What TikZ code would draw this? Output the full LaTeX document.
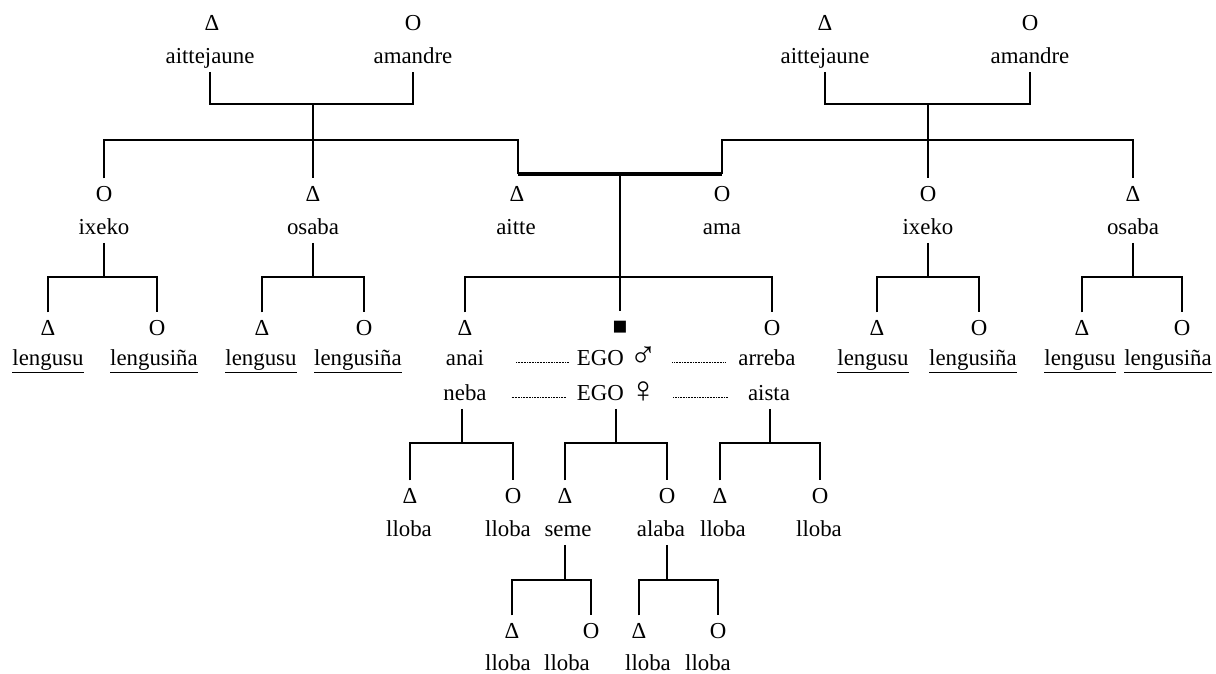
\documentclass[tikz,border=0pt]{standalone}
\usepackage{fontspec}
\setmainfont{Liberation Serif}
\usetikzlibrary{positioning}
\newcommand{\gsign}[1]{\raisebox{-0.1em}{\fontsize{21}{15}\selectfont #1}}

\begin{document}
\begin{tikzpicture}[x=0.02cm, y=-0.02cm,
        every node/.style={font=\fontsize{13}{15}\selectfont, inner xsep=0pt},
        symbol/.style={anchor=base, text height=0.7em, inner ysep=5.7pt},
        term/.style={anchor=base, text height=0.7em, text depth=0.25em, inner ysep=2.3pt},
        kin/.style={line width=1.15pt},
        marriage/.style={line width=2.3pt},
        leader/.style={line width=0.4pt, dash pattern=on 0.45pt off 0.45pt}
    ]
    \useasboundingbox (0,0) rectangle (1216,673);

    % grandparents
    \node[symbol] (sGfL) at (212,30) {Δ};
    \node[term]   (nGfL) at (210,63) {aittejaune};
    \node[symbol] (sGmL) at (413,30) {O};
    \node[term]   (nGmL) at (413,63) {amandre};
    \node[symbol] (sGfR) at (825,30) {Δ};
    \node[term]   (nGfR) at (825,63) {aittejaune};
    \node[symbol] (sGmR) at (1030,30) {O};
    \node[term]   (nGmR) at (1030,63) {amandre};

    % parents, aunts and uncles
    \node[symbol] (sIxL) at (104,201) {O};
    \node[term]   (nIxL) at (104,234) {ixeko};
    \node[symbol] (sOsL) at (313,201) {Δ};
    \node[term]   (nOsL) at (313,234) {osaba};
    \node[symbol] (sAitte) at (517,201) {Δ};
    \node[term]   (nAitte) at (516,234) {aitte};
    \node[symbol] (sAma) at (722,201) {O};
    \node[term]   (nAma) at (722,234) {ama};
    \node[symbol] (sIxR) at (928,201) {O};
    \node[term]   (nIxR) at (928,234) {ixeko};
    \node[symbol] (sOsR) at (1133,201) {Δ};
    \node[term]   (nOsR) at (1133,234) {osaba};

    % cousins
    \node[symbol] (sC1a) at (48,335) {Δ};
    \node[term]   (nC1a) at (48,365) {\underline{lengusu}};
    \node[symbol] (sC1b) at (157,335) {O};
    \node[term]   (nC1b) at (154,365) {\underline{lengusiña}};
    \node[symbol] (sC2a) at (262,335) {Δ};
    \node[term]   (nC2a) at (261,365) {\underline{lengusu}};
    \node[symbol] (sC2b) at (364,335) {O};
    \node[term]   (nC2b) at (358,365) {\underline{lengusiña}};
    \node[symbol] (sC3a) at (877,335) {Δ};
    \node[term]   (nC3a) at (873,365) {\underline{lengusu}};
    \node[symbol] (sC3b) at (979,335) {O};
    \node[term]   (nC3b) at (973,365) {\underline{lengusiña}};
    \node[symbol] (sC4a) at (1082,335) {Δ};
    \node[term]   (nC4a) at (1080,365) {\underline{lengusu}};
    \node[symbol] (sC4b) at (1182,335) {O};
    \node[term]   (nC4b) at (1168,365) {\underline{lengusiña}};

    % siblings and ego
    \node[symbol] (sAnai) at (465,335) {Δ};
    \node[term]   (nAnai) at (465,365) {anai};
    \node[term]   (nNeba) at (465,400) {neba};
    \node[symbol, font=\fontsize{14}{15}\selectfont] (sEgo) at (620,334) {■};
    \node[term]   (nEgoM) at (617,365) {EGO \gsign{♂}};
    \node[term]   (nEgoF) at (617,400) {EGO \gsign{♀}};
    \node[symbol] (sArreba) at (772,335) {O};
    \node[term]   (nArreba) at (767,365) {arreba};
    \node[term]   (nAista) at (769,400) {aista};

    % nephews, nieces, children
    \node[symbol] (sN1a) at (410,503) {Δ};
    \node[term]   (nN1a) at (409,536) {lloba};
    \node[symbol] (sN1b) at (513,503) {O};
    \node[term]   (nN1b) at (508,536) {lloba};
    \node[symbol] (sSeme) at (565,503) {Δ};
    \node[term]   (nSeme) at (568,536) {seme};
    \node[symbol] (sAlaba) at (667,503) {O};
    \node[term]   (nAlaba) at (661,536) {alaba};
    \node[symbol] (sN2a) at (720,503) {Δ};
    \node[term]   (nN2a) at (723,536) {lloba};
    \node[symbol] (sN2b) at (820,503) {O};
    \node[term]   (nN2b) at (819,536) {lloba};

    % grandchildren
    \node[symbol] (sG1a) at (512,638) {Δ};
    \node[term]   (nG1a) at (508,670) {lloba};
    \node[symbol] (sG1b) at (591,638) {O};
    \node[term]   (nG1b) at (567,670) {lloba};
    \node[symbol] (sG2a) at (639,638) {Δ};
    \node[term]   (nG2a) at (648,670) {lloba};
    \node[symbol] (sG2b) at (718,638) {O};
    \node[term]   (nG2b) at (708,670) {lloba};

    % junctions
    \coordinate (kGpL) at (313,104);
    \coordinate (kGpR) at (928,104);
    \coordinate (kTopL) at (313,140);
    \coordinate (kTopR) at (928,140);
    \coordinate (kAitte) at (518,140);
    \coordinate (kAma) at (722,140);
    \coordinate (kMarL) at (518,174);
    \coordinate (kMar) at (620,174);
    \coordinate (kMarR) at (722,174);
    \coordinate (kIxL) at (104,277);
    \coordinate (kOsL) at (313,277);
    \coordinate (kSib) at (620,277);
    \coordinate (kIxR) at (928,277);
    \coordinate (kOsR) at (1133,277);
    \coordinate (kNeba) at (462,443);
    \coordinate (kEgo) at (616,443);
    \coordinate (kAista) at (770,443);
    \coordinate (kSeme) at (565,580);
    \coordinate (kAlaba) at (667,580);

    % grandparents to their children
    \draw[kin] (nGfL.south) |- (kGpL) -| (nGmL.south);
    \draw[kin] (nGfR.south) |- (kGpR) -| (nGmR.south);
    \draw[kin] (kGpL) -- (sOsL.north);
    \draw[kin] (sIxL.north) |- (kTopL) -- (kAitte) -- (kMarL);
    \draw[kin] (kGpR) -- (sIxR.north);
    \draw[kin] (kMarR) -- (kAma) -- (kTopR) -| (sOsR.north);
    \draw[marriage] (kMarL) -- (kMarR);

    % cousins
    \draw[kin] (nIxL.south) -- (kIxL);
    \draw[kin] (sC1a.north) |- (kIxL) -| (sC1b.north);
    \draw[kin] (nOsL.south) -- (kOsL);
    \draw[kin] (sC2a.north) |- (kOsL) -| (sC2b.north);
    \draw[kin] (nIxR.south) -- (kIxR);
    \draw[kin] (sC3a.north) |- (kIxR) -| (sC3b.north);
    \draw[kin] (nOsR.south) -- (kOsR);
    \draw[kin] (sC4a.north) |- (kOsR) -| (sC4b.north);

    % siblings
    \draw[kin] (kMar) -- (sEgo.north);
    \draw[kin] (sAnai.north) |- (kSib) -| (sArreba.north);
    \draw[leader, shorten <=18pt, shorten >=4pt] ([yshift=1.7pt]nAnai.base east) -- ([yshift=1.7pt]nEgoM.base west);
    \draw[leader, shorten <=8.5pt, shorten >=7pt] ([yshift=1.7pt]nEgoM.base east) -- ([yshift=1.7pt]nArreba.base west);
    \draw[leader, shorten <=14pt, shorten >=6pt] ([yshift=1.7pt]nNeba.base east) -- ([yshift=1.7pt]nEgoF.base west);
    \draw[leader, shorten <=9pt, shorten >=11pt] ([yshift=1.7pt]nEgoF.base east) -- ([yshift=1.7pt]nAista.base west);

    % next generation
    \draw[kin] (kNeba |- nNeba.south) -- (kNeba);
    \draw[kin] (sN1a.north) |- (kNeba) -| (sN1b.north);
    \draw[kin] (kEgo |- nEgoF.south) -- (kEgo);
    \draw[kin] (sSeme.north) |- (kEgo) -| (sAlaba.north);
    \draw[kin] (kAista |- nAista.south) -- (kAista);
    \draw[kin] (sN2a.north) |- (kAista) -| (sN2b.north);
    \draw[kin] (kSeme |- nSeme.south) -- (kSeme);
    \draw[kin] (sG1a.north) |- (kSeme) -| (sG1b.north);
    \draw[kin] (kAlaba |- nAlaba.south) -- (kAlaba);
    \draw[kin] (sG2a.north) |- (kAlaba) -| (sG2b.north);

\end{tikzpicture}
\end{document}
